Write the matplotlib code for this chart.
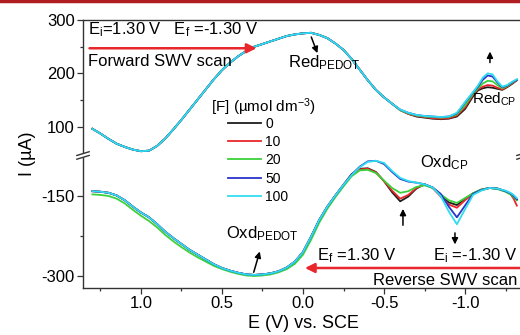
import numpy as np
import matplotlib.pyplot as plt
from matplotlib.lines import Line2D

plt.rcParams['font.family'] = ['Liberation Sans', 'DejaVu Sans']
plt.rcParams['mathtext.fontset'] = 'custom'
plt.rcParams['mathtext.rm'] = 'Liberation Sans'
plt.rcParams['mathtext.it'] = 'Liberation Sans:italic'
plt.rcParams['axes.unicode_minus'] = False

# [F] concentrations (umol dm-3) and colours
conc = ['0', '10', '20', '50', '100']
colors = ['#1c1c1c', '#e8262b', '#3ad23a', '#2a34c8', '#30dcf0']

# forward SWV scan (upper part of the axis), common to all curves down to -0.55 V
E_fwd_head = [1.30, 1.25, 1.20, 1.15, 1.10, 1.05, 1.00, 0.95, 0.90, 0.85, 0.80, 0.75,
              0.70, 0.65, 0.60, 0.55, 0.50, 0.45, 0.40, 0.35, 0.30, 0.25, 0.20, 0.15,
              0.10, 0.05, 0.00, -0.05, -0.10, -0.15, -0.20, -0.25, -0.30, -0.35, -0.40,
              -0.45, -0.50, -0.55]
I_fwd_head = [96, 87, 77, 68, 62, 57, 54, 55, 64, 78, 95, 113,
              132, 151, 170, 189, 206, 220, 232, 242, 250, 255, 260, 265,
              270, 273, 275, 276, 272, 266, 256, 244, 227, 207, 187,
              169, 155, 143]
E_fwd_tail = [-0.60, -0.65, -0.70, -0.75, -0.80, -0.85, -0.90, -0.95, -1.00, -1.05, -1.08,
              -1.11, -1.14, -1.17, -1.20, -1.23, -1.26, -1.29, -1.32]
I_fwd_0 = [131, 124, 119, 117, 115, 114, 115, 119, 133, 157, 168, 172, 174, 173, 171, 169, 174, 180, 187]
I_fwd_10 = [131, 124, 120, 118, 116, 115, 116, 121, 136, 160, 170, 175, 178, 177, 173, 170, 175, 181, 187]
I_fwd_20 = [131, 125, 121, 119, 118, 117, 118, 123, 140, 162, 172, 181, 186, 185, 178, 172, 176, 182, 188]
I_fwd_50 = [132, 126, 122, 120, 119, 118, 119, 125, 145, 164, 175, 188, 196, 194, 183, 174, 177, 183, 188]
I_fwd_100 = [132, 126, 122, 120, 119, 118, 119, 126, 146, 165, 177, 192, 200, 198, 185, 175, 178, 184, 189]

# reverse SWV scan (lower part of the axis)
E_rev_head = [1.30, 1.25, 1.20, 1.15, 1.10, 1.05, 1.00, 0.95, 0.90, 0.85, 0.80, 0.75,
              0.70, 0.65, 0.60, 0.55, 0.50, 0.45, 0.40, 0.35, 0.30, 0.25, 0.20, 0.15,
              0.10, 0.05, 0.00, -0.05, -0.10, -0.15, -0.20]
I_rev_head = [-141, -142, -144, -149, -158, -170, -181, -190, -203, -217, -229, -240,
              -251, -260, -269, -278, -285, -290, -294, -297, -298, -297, -295, -291,
              -284, -273, -255, -226, -195, -170, -149]
I_rev_head_20 = [-147, -148, -150, -155, -164, -176, -187, -197, -209, -223, -235, -246,
                 -256, -265, -273, -281, -287, -292, -296, -299, -300, -299, -297, -293,
                 -287, -277, -260, -232, -200, -174, -152]
E_rev_tail = [-0.25, -0.30, -0.35, -0.40, -0.45, -0.50, -0.55, -0.60, -0.65, -0.70, -0.75,
              -0.80, -0.85, -0.90, -0.95, -1.00, -1.05, -1.10, -1.15, -1.20, -1.25, -1.28,
              -1.30, -1.32]
I_rev_0 = [-129, -109, -99, -98, -105, -122, -143, -160, -151, -136, -128,
           -134, -148, -162, -167, -155, -145, -138, -135, -136, -141, -145, -150, -157]
I_rev_10 = [-129, -110, -100, -99, -106, -122, -140, -155, -148, -135, -128,
            -135, -151, -166, -172, -158, -146, -139, -135, -136, -141, -146, -155, -168]
I_rev_20 = [-132, -113, -102, -101, -107, -121, -135, -144, -141, -133, -130,
            -135, -147, -158, -163, -154, -145, -138, -135, -137, -142, -147, -152, -158]
I_rev_50 = [-129, -110, -95, -85, -84, -90, -105, -118, -123, -125, -128,
            -134, -146, -170, -190, -168, -146, -139, -135, -136, -141, -145, -150, -156]
I_rev_100 = [-129, -111, -96, -86, -84, -88, -103, -116, -122, -125, -128,
             -134, -150, -179, -203, -175, -148, -140, -135, -136, -140, -144, -148, -154]

# the lower part is drawn shifted up by SHIFT (broken y axis)
SHIFT = 120
top_ticks = [100, 200, 300]
top_minor = [150, 250]
bot_ticks = [-150, -300]
bot_minor = [-225]

fwd_tails = [I_fwd_0, I_fwd_10, I_fwd_20, I_fwd_50, I_fwd_100]
rev_tails = [I_rev_0, I_rev_10, I_rev_20, I_rev_50, I_rev_100]
rev_heads = [I_rev_head, I_rev_head, I_rev_head_20, I_rev_head, I_rev_head]

fig = plt.figure(figsize=(5.2, 3.35), dpi=100)
ax = fig.add_axes([83 / 520, 1 - 288 / 335, 440 / 520, 268 / 335])

lines = []
for c, lab, ft, rh, rt in zip(colors, conc, fwd_tails, rev_heads, rev_tails):
    E_f = np.array(E_fwd_head + E_fwd_tail)
    I_f = np.array(I_fwd_head + ft)
    l, = ax.plot(E_f, I_f, color=c, lw=1.3, label=lab)
    E_r = np.array(E_rev_head + E_rev_tail)
    I_r = np.array(rh + rt) + SHIFT
    ax.plot(E_r, I_r, color=c, lw=1.3)
    lines.append(l)

ax.set_xlim(1.358, -1.358)
ax.set_ylim(-202.5, 300)

ax.set_xticks([1.0, 0.5, 0.0, -0.5, -1.0])
ax.set_xticklabels(['1.0', '0.5', '0.0', '-0.5', '-1.0'])
ax.set_xticks([1.25, 0.75, 0.25, -0.25, -0.75, -1.25], minor=True)
yt = top_ticks + [v + SHIFT for v in bot_ticks]
ax.set_yticks(yt)
ax.set_yticklabels([str(v) for v in top_ticks + bot_ticks])
ax.set_yticks(top_minor + [v + SHIFT for v in bot_minor], minor=True)
ax.tick_params(which='both', direction='out', width=0.9, labelsize=12, color='#333333')
ax.tick_params(which='major', length=4, pad=2)
ax.tick_params(which='minor', length=2.5)
for s in ax.spines.values():
    s.set_color('#333333')
    s.set_linewidth(1.0)

ax.set_xlabel('E (V) vs. SCE', fontsize=13, labelpad=3)
ax.set_ylabel('I (µA)', fontsize=13, labelpad=4)

# break marks on the y axis
ybrk = 47
for xa in [0.0, 1.0]:
    ax.fill([xa - 0.012, xa + 0.012, xa + 0.012, xa - 0.012],
            [ybrk - 7, ybrk - 1, ybrk + 4, ybrk - 2], transform=ax.get_yaxis_transform(),
            color='white', clip_on=False, zorder=5)
    for dy in [-4.5, 2.5]:
        ax.plot([xa - 0.014, xa + 0.014], [ybrk + dy - 3.5, ybrk + dy + 3.5],
                transform=ax.get_yaxis_transform(), color='#333333', lw=1.0,
                clip_on=False, zorder=6)

# forward scan annotations
ax.text(1.33, 282, r'E$_\mathrm{i}$=1.30 V   E$_\mathrm{f}$ =-1.30 V', fontsize=12,
        ha='left', va='center')
ax.annotate('', xy=(0.27, 247), xytext=(1.335, 247),
            arrowprops=dict(arrowstyle='-|>', color='#e8262b', lw=1.8, mutation_scale=14))
ax.text(1.33, 222, 'Forward SWV scan', fontsize=12, ha='left', va='center')
ax.text(0.095, 220, r'Red$_\mathrm{PEDOT}$', fontsize=12, ha='left', va='center')
ax.annotate('', xy=(-0.095, 233), xytext=(-0.045, 273),
            arrowprops=dict(arrowstyle='-|>', color='black', lw=1.1, mutation_scale=9))
ax.annotate('', xy=(-1.154, 246), xytext=(-1.154, 215),
            arrowprops=dict(arrowstyle='-|>', color='black', lw=1.1, mutation_scale=9))
ax.text(-1.045, 151, r'Red$_\mathrm{CP}$', fontsize=11, ha='left', va='center')

# reverse scan annotations
ax.text(-0.72, 32, r'Oxd$_\mathrm{CP}$', fontsize=12, ha='left', va='center')
ax.annotate('', xy=(-0.617, -49), xytext=(-0.617, -90),
            arrowprops=dict(arrowstyle='-|>', color='black', lw=1.1, mutation_scale=9))
ax.annotate('', xy=(-0.938, -126), xytext=(-0.938, -94),
            arrowprops=dict(arrowstyle='-|>', color='black', lw=1.1, mutation_scale=9))
ax.text(0.475, -100, r'Oxd$_\mathrm{PEDOT}$', fontsize=12, ha='left', va='center')
ax.annotate('', xy=(0.262, -129), xytext=(0.309, -178),
            arrowprops=dict(arrowstyle='-|>', color='black', lw=1.1, mutation_scale=9))
ax.text(-0.085, -141, r'E$_\mathrm{f}$ =1.30 V', fontsize=12, ha='left', va='center')
ax.text(-0.80, -141, r'E$_\mathrm{i}$ =-1.30 V', fontsize=12, ha='left', va='center')
ax.annotate('', xy=(0.005, -165), xytext=(-1.36, -165),
            arrowprops=dict(arrowstyle='-|>', color='#e8262b', lw=1.8, mutation_scale=14))
ax.text(-1.325, -188, 'Reverse SWV scan', fontsize=12, ha='right', va='center')

# legend (title placed separately to match its spacing)
ax.text(0.247, 137, '[F] (µmol dm$^{-3}$)', fontsize=11, ha='center', va='center')
ax.legend(lines, conc, frameon=False, fontsize=10,
          loc='upper left', bbox_to_anchor=(0.3295, 0.638),
          bbox_transform=ax.transAxes, borderpad=0, borderaxespad=0,
          handlelength=2.4, handletextpad=0.3, labelspacing=0.3)

# dark red rule at the top of the page
fig.add_artist(Line2D([0, 1], [0.996, 0.996], color='#b01e22', lw=2.5))

fig.savefig('out.png', dpi=100)
